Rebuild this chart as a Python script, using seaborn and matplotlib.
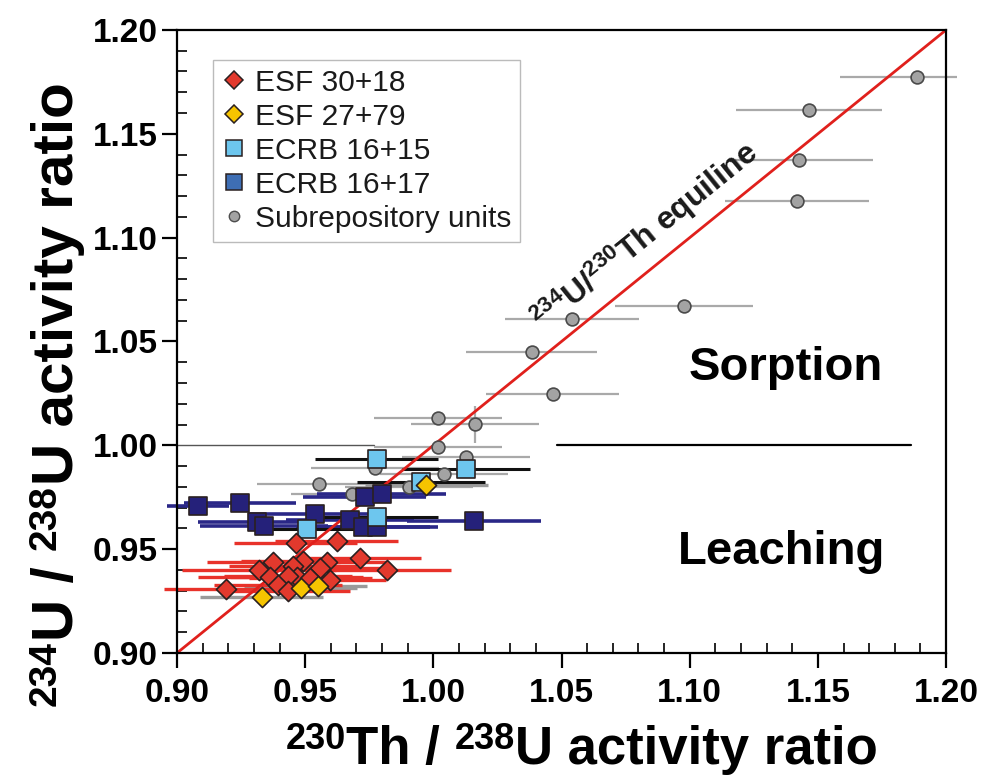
import numpy as np
import pandas as pd
import matplotlib
matplotlib.use("Agg")
import matplotlib.pyplot as plt
from matplotlib.lines import Line2D
from matplotlib.ticker import MultipleLocator, FormatStrFormatter
import seaborn as sns

# ---------------- data ----------------
esf3018_x = [0.9464, 0.9623, 0.9713, 0.9818, 0.9375, 0.9490, 0.9451, 0.9584, 0.9558,
             0.9321, 0.9363, 0.9467, 0.9434, 0.9519, 0.9597, 0.9395, 0.9434, 0.9190]
esf3018_y = [0.9531, 0.9539, 0.9456, 0.9400, 0.9440, 0.9443, 0.9419, 0.9440, 0.9408,
             0.9400, 0.9367, 0.9367, 0.9372, 0.9360, 0.9351, 0.9327, 0.9300, 0.9308]
esf3018_xerr = [0.024, 0.024, 0.024, 0.025, 0.026, 0.024, 0.025, 0.023, 0.024,
                0.030, 0.028, 0.026, 0.025, 0.024, 0.022, 0.025, 0.024, 0.024]

esf2779_x = [0.9330, 0.9482, 0.9551, 0.9972]
esf2779_y = [0.9271, 0.9311, 0.9323, 0.9809]
esf2779_xerr = [0.024, 0.022, 0.019, 0.024]

ecrb1615_x = [0.9780, 1.0126, 0.9951, 0.9779, 0.9508]
ecrb1615_y = [0.9934, 0.9884, 0.9822, 0.9656, 0.9596]
ecrb1615_xerr = [0.024, 0.025, 0.025, 0.024, 0.020]

ecrb1617_x = [0.9081, 0.9246, 0.9538, 0.9313, 0.9340, 0.9674, 0.9726, 0.9779, 0.9733, 0.9798, 1.0159]
ecrb1617_y = [0.9709, 0.9724, 0.9668, 0.9632, 0.9611, 0.9640, 0.9608, 0.9608, 0.9750, 0.9766, 0.9637]
ecrb1617_xerr = [0.012, 0.022, 0.026, 0.023, 0.025, 0.025, 0.026, 0.024, 0.024, 0.025, 0.026]

sub_x = [1.1887, 1.1466, 1.1425, 1.1419, 1.0977, 1.0541, 1.0383, 1.0466, 1.0019,
         1.0161, 1.0019, 1.0127, 0.9772, 1.0040, 0.9904, 0.9683, 0.9552]
sub_y = [1.1772, 1.1614, 1.1374, 1.1176, 1.0672, 1.0607, 1.0449, 1.0246, 1.0133,
         1.0101, 0.9993, 0.9945, 0.9889, 0.9860, 0.9801, 0.9766, 0.9812]
sub_xerr_lo = [0.030, 0.0285, 0.025, 0.028, 0.027, 0.026, 0.0257, 0.026, 0.025,
               0.025, 0.025, 0.025, 0.025, 0.025, 0.025, 0.024, 0.024]
sub_xerr_hi = [0.0155, 0.0285, 0.029, 0.028, 0.027, 0.026, 0.0257, 0.026, 0.025,
               0.025, 0.025, 0.025, 0.025, 0.025, 0.025, 0.024, 0.024]
sub_yerr = [0, 0, 0, 0, 0, 0, 0, 0, 0, 0.0088, 0, 0, 0, 0, 0, 0, 0]

legend_labels = ["ESF 30+18", "ESF 27+79", "ECRB 16+15", "ECRB 16+17", "Subrepository units"]
x_ticks = [0.90, 0.95, 1.00, 1.05, 1.10, 1.15, 1.20]
y_ticks = [0.90, 0.95, 1.00, 1.05, 1.10, 1.15, 1.20]
xlabel_parts = [("230", True), ("Th / ", False), ("238", True), ("U activity ratio", False)]
ylabel_parts = [("234", True), ("U / ", False), ("238", True), ("U activity ratio", False)]

# ---------------- style ----------------
sns.set_theme(style="white")
plt.rcParams['font.family'] = ['Liberation Sans', 'DejaVu Sans']
plt.rcParams['mathtext.default'] = 'regular'
plt.rcParams.update({'text.color': 'black', 'axes.labelcolor': 'black',
                     'xtick.color': 'black', 'ytick.color': 'black'})

W, H = 999, 778
fig = plt.figure(figsize=(W / 100, H / 100), dpi=100)
ax = fig.add_axes([0.1772, 0.1607, 0.7698, 0.8008])

RED = "#e2392d"
YEL = "#f6c400"
LBLUE = "#6dc6ee"
NAVY = "#25217a"
GREY = "#a3a3a3"
EDGE = "#2a2020"

# error bars
ax.errorbar(sub_x, sub_y, xerr=[sub_xerr_lo, sub_xerr_hi], yerr=sub_yerr, fmt='none',
            ecolor="#a9a9a9", elinewidth=1.6, capsize=0, zorder=1, clip_on=False)
ax.errorbar(esf2779_x, esf2779_y, xerr=esf2779_xerr, fmt='none',
            ecolor="#9a9a9a", elinewidth=2.4, capsize=0, zorder=1.2)
ax.errorbar(ecrb1617_x, ecrb1617_y, xerr=ecrb1617_xerr, fmt='none',
            ecolor="#2a2787", elinewidth=2.6, capsize=0, zorder=1.3, clip_on=False)
ax.errorbar(ecrb1615_x, ecrb1615_y, xerr=ecrb1615_xerr, fmt='none',
            ecolor="#111111", elinewidth=2.2, capsize=0, zorder=1.4)
ax.errorbar(esf3018_x, esf3018_y, xerr=esf3018_xerr, fmt='none',
            ecolor="#e8322a", elinewidth=2.4, capsize=0, zorder=1.5, clip_on=False)

# reference lines
ax.plot([0.90, 0.977], [1.0, 1.0], color="#555555", lw=1.0, zorder=0.9)
ax.plot([0.90, 1.20], [0.90, 1.20], color="#e0201c", lw=2.0, zorder=2)
ax.plot([1.0483, 1.1864], [1.0, 1.0], color="black", lw=1.6, zorder=2)

# markers via seaborn
def draw(xs, ys, marker, color, s, z, ec=EDGE):
    df = pd.DataFrame({"x": xs, "y": ys})
    sns.scatterplot(data=df, x="x", y="y", marker=marker, color=color, s=s,
                    edgecolor=ec, linewidth=1.2, ax=ax, legend=False, zorder=z)

draw(sub_x, sub_y, "o", GREY, 85, 3, "#4a4a4a")
draw(ecrb1617_x, ecrb1617_y, "s", NAVY, 150, 4)
draw(ecrb1615_x, ecrb1615_y, "s", LBLUE, 150, 5)
draw(esf3018_x, esf3018_y, "D", RED, 105, 6)
draw(esf2779_x, esf2779_y, "D", YEL, 105, 7)

# axes
ax.set_xlim(0.90, 1.20)
ax.set_ylim(0.90, 1.20)
ax.set_xticks(x_ticks)
ax.set_yticks(y_ticks)
ax.xaxis.set_minor_locator(MultipleLocator(0.01))
ax.yaxis.set_minor_locator(MultipleLocator(0.01))
ax.xaxis.set_major_formatter(FormatStrFormatter('%.2f'))
ax.yaxis.set_major_formatter(FormatStrFormatter('%.2f'))
ax.tick_params(which='major', direction='out', length=11, width=1.6, labelsize=24,
               bottom=True, left=True, top=False, right=False, colors='black')
ax.tick_params(axis='x', which='major', pad=7)
ax.tick_params(axis='y', which='major', pad=3)
ax.tick_params(which='minor', direction='in', length=7, width=1.2,
               bottom=True, left=True, top=False, right=False)
for lbl in ax.get_xticklabels() + ax.get_yticklabels():
    lbl.set_fontweight('bold')
for sp in ax.spines.values():
    sp.set_color('black')
    sp.set_linewidth(1.6)
ax.set_xlabel("")
ax.set_ylabel("")

# axis titles built from pieces (large superscripts)
def chain_x(parts, x0, base_y, main_fs, sup_fs, raise_px):
    prev = None
    for txt, sup in parts:
        yy = 1 - (base_y - (raise_px if sup else 0)) / H
        kw = dict(fontsize=sup_fs if sup else main_fs, fontweight='bold',
                  ha='left', va='baseline', color='black')
        if prev is None:
            prev = fig.text(x0 / W, yy, txt, **kw)
        else:
            prev = ax.annotate(txt, xy=(1, yy), xycoords=(prev, 'figure fraction'),
                               annotation_clip=False, **kw)

def chain_y(parts, base_x, y0, main_fs, sup_fs, raise_px):
    prev = None
    for txt, sup in parts:
        xx = (base_x - (raise_px if sup else 0)) / W
        kw = dict(fontsize=sup_fs if sup else main_fs, fontweight='bold', rotation=90,
                  rotation_mode='anchor', ha='left', va='baseline', color='black')
        if prev is None:
            prev = fig.text(xx, 1 - y0 / H, txt, **kw)
        else:
            prev = ax.annotate(txt, xy=(xx, 1), xycoords=('figure fraction', prev),
                               annotation_clip=False, **kw)

chain_x(xlabel_parts, 286, 764, 38, 26, 15)
chain_y(ylabel_parts, 73, 706, 42, 28, 17)

# annotations
ax.text(1.1374, 1.0372, "Sorption", fontsize=34, fontweight='bold', ha='center', va='center', color='black')
ax.text(1.1359, 0.9486, "Leaching", fontsize=34, fontweight='bold', ha='center', va='center', color='black')
ax.text(1.0827, 1.1008, r"$^{234}$U/$^{230}$Th equiline", fontsize=23, fontweight='bold',
        rotation=39, rotation_mode='anchor', ha='center', va='center', color='#1a1a1a')

# legend
handles = [
    Line2D([], [], marker='D', ls='none', markerfacecolor=RED, markeredgecolor=EDGE, markersize=9, markeredgewidth=1.1),
    Line2D([], [], marker='D', ls='none', markerfacecolor=YEL, markeredgecolor=EDGE, markersize=9, markeredgewidth=1.1),
    Line2D([], [], marker='s', ls='none', markerfacecolor=LBLUE, markeredgecolor=EDGE, markersize=12, markeredgewidth=1.1),
    Line2D([], [], marker='s', ls='none', markerfacecolor="#3e6eb4", markeredgecolor=EDGE, markersize=12, markeredgewidth=1.1),
    Line2D([], [], marker='o', ls='none', markerfacecolor=GREY, markeredgecolor="#4d4d4d", markersize=7.5, markeredgewidth=1.0),
]
leg = ax.legend(handles, legend_labels, loc='upper left', bbox_to_anchor=(0.047, 0.952),
                borderaxespad=0, fontsize=21.5, frameon=True, fancybox=False,
                handlelength=0.8, handletextpad=0.3, labelspacing=0.2, borderpad=0.3)
leg.get_frame().set_edgecolor('#aaaaaa')
leg.get_frame().set_linewidth(1.0)
for t in leg.get_texts():
    t.set_color('#1a1a1a')

fig.savefig("out.png", dpi=100)
